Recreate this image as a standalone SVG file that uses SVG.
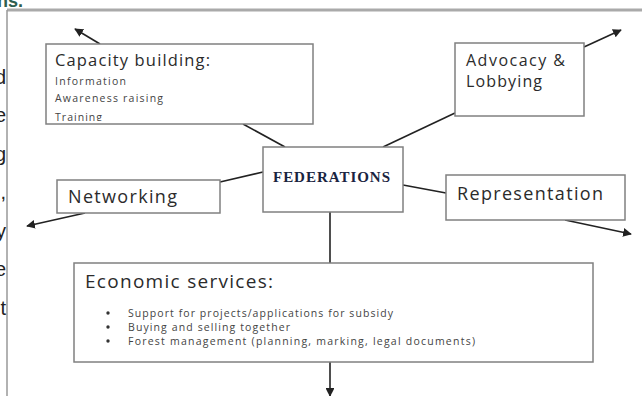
<svg xmlns="http://www.w3.org/2000/svg" width="642" height="396" viewBox="0 0 642 396">
<defs>
<style>
.box{fill:#fff;stroke:#808080;stroke-width:1.5}
.con{stroke:#222;stroke-width:1.6;fill:none}
.arr{stroke:#222;stroke-width:1.6;fill:none;marker-end:url(#ah)}
.t{font-family:"Open Sans","Liberation Sans",Arial,sans-serif;fill:#2b2b2b}
.s{font-family:"Open Sans","Liberation Sans",Arial,sans-serif;fill:#444;font-size:10.5px}
.frag{font-family:"Liberation Sans",Arial,sans-serif;fill:#222;font-size:20px}
</style>
<marker id="ah" viewBox="0 0 10 10" refX="9" refY="5" markerWidth="5.5" markerHeight="5.5" orient="auto">
<path d="M0,0 L10,5 L0,10 z" fill="#222"/>
</marker>
<clipPath id="cbclip"><rect x="46" y="44" width="267" height="77"/></clipPath>
</defs>
<rect width="642" height="396" fill="#fff"/>
<g id="page-fragment">
<text x="-3" y="7" font-family="Liberation Sans,Arial,sans-serif" font-weight="bold" font-size="18" fill="#2e5e4e">ns.</text>
<line x1="7" y1="10" x2="642" y2="10" stroke="#aaa" stroke-width="3"/>
<line x1="7" y1="10" x2="7" y2="396" stroke="#999" stroke-width="1.5"/>
<text class="frag" x="6" y="84" text-anchor="end">d</text>
<text class="frag" x="6" y="122" text-anchor="end">e</text>
<text class="frag" x="6" y="161" text-anchor="end">g</text>
<text class="frag" x="6" y="199" text-anchor="end">,</text>
<text class="frag" x="6" y="238" text-anchor="end">y</text>
<text class="frag" x="6" y="276" text-anchor="end">e</text>
<text class="frag" x="6" y="315" text-anchor="end">t</text>
</g>
<g id="connectors">
<line class="con" x1="243" y1="124" x2="285" y2="147"/>
<line class="con" x1="455" y1="113" x2="383" y2="147"/>
<line class="con" x1="220" y1="182" x2="263" y2="172"/>
<line class="con" x1="403" y1="185" x2="446" y2="193"/>
<line class="con" x1="330" y1="212" x2="330" y2="263"/>
<line class="arr" x1="100" y1="44" x2="75" y2="29"/>
<line class="arr" x1="584" y1="47" x2="621" y2="30"/>
<line class="arr" x1="85" y1="213" x2="27" y2="226"/>
<line class="arr" x1="565" y1="220" x2="631" y2="234"/>
<line class="arr" x1="330" y1="362" x2="330" y2="396"/>
</g>
<g id="capacity">
<rect class="box" x="46" y="44" width="267" height="80"/>
<text class="t" x="55" y="66" font-size="16.5" textLength="155">Capacity building:</text>
<g clip-path="url(#cbclip)">
<text class="s" x="55" y="85" font-size="11" textLength="71">Information</text>
<text class="s" x="55" y="102" font-size="11" textLength="108">Awareness raising</text>
<text class="s" x="55" y="121" font-size="11" textLength="47">Training</text>
</g>
</g>
<g id="advocacy">
<rect class="box" x="455" y="43" width="129" height="73"/>
<text class="t" x="466" y="66" font-size="16" textLength="99">Advocacy &amp;</text>
<text class="t" x="466" y="87" font-size="16" textLength="76">Lobbying</text>
</g>
<g id="federations">
<rect class="box" x="263" y="147" width="140" height="65"/>
<text x="273" y="182" font-family="Liberation Serif,Times New Roman,serif" font-weight="bold" font-size="15" fill="#1a2440" textLength="117">FEDERATIONS</text>
</g>
<g id="networking">
<rect class="box" x="57" y="180" width="163" height="33"/>
<text class="t" x="68" y="203" font-size="18" textLength="109">Networking</text>
</g>
<g id="representation">
<rect class="box" x="446" y="175" width="179" height="45"/>
<text class="t" x="457" y="200" font-size="18" textLength="146">Representation</text>
</g>
<g id="economic">
<rect class="box" x="74" y="263" width="519" height="99"/>
<text class="t" x="85" y="288" font-size="19" textLength="188">Economic services:</text>
<circle cx="108" cy="313" r="1.7" fill="#333"/>
<circle cx="108" cy="327" r="1.7" fill="#333"/>
<circle cx="108" cy="341" r="1.7" fill="#333"/>
<text class="s" x="128" y="317" textLength="265">Support for projects/applications for subsidy</text>
<text class="s" x="128" y="331" textLength="162">Buying and selling together</text>
<text class="s" x="128" y="345" textLength="347">Forest management (planning, marking, legal documents)</text>
</g>
</svg>
